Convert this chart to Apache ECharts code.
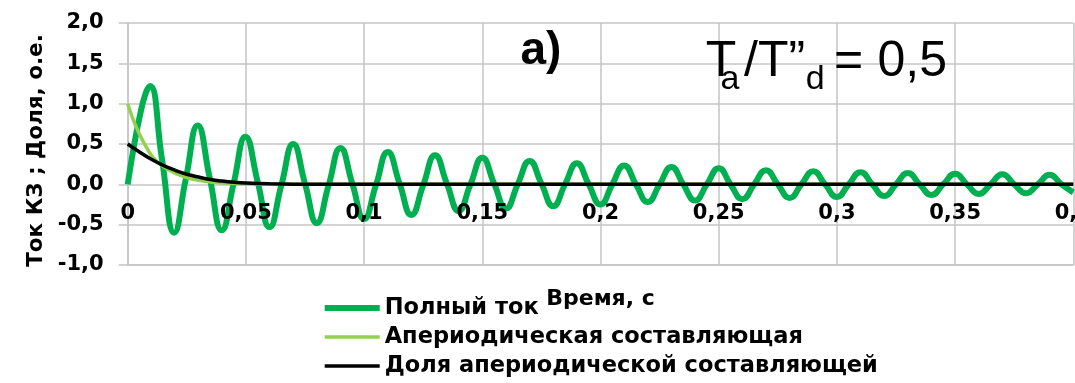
<!DOCTYPE html>
<html>
<head>
<meta charset="utf-8">
<script src="https://cdn.jsdelivr.net/npm/echarts@6/dist/echarts.min.js"></script>
<style>
html,body{margin:0;padding:0;background:#fff;}
#chart{width:1075px;height:383px;}
</style>
</head>
<body>
<div id="chart"></div>
<script>
// ---- data ----
const seriesNames = ['Полный ток', 'Апериодическая составляющая', 'Доля апериодической составляющей'];

// full current: start, extrema and the points half-way between them
const fullTime = [0, 0.0025, 0.005, 0.0075, 0.0095, 0.0145, 0.0197, 0.0246, 0.0296, 0.0347,
  0.0398, 0.0448, 0.0498, 0.055, 0.06, 0.065, 0.07, 0.075, 0.08, 0.085,
  0.09, 0.095, 0.1, 0.105, 0.11, 0.115, 0.12, 0.125, 0.13, 0.135,
  0.14, 0.145, 0.15, 0.155, 0.16, 0.165, 0.17, 0.175, 0.18, 0.185,
  0.19, 0.195, 0.2, 0.205, 0.21, 0.215, 0.22, 0.225, 0.23, 0.235,
  0.24, 0.245, 0.25, 0.255, 0.26, 0.265, 0.27, 0.275, 0.28, 0.285,
  0.29, 0.295, 0.3, 0.305, 0.31, 0.315, 0.32, 0.325, 0.33, 0.335,
  0.34, 0.345, 0.35, 0.355, 0.36, 0.365, 0.37, 0.375, 0.38, 0.385,
  0.39, 0.395, 0.4];
const fullCurrent = [0, 0.45, 0.83, 1.12, 1.22, 0.31, -0.60, 0.07, 0.73, 0.08,
  -0.57, 0.01, 0.59, 0.03, -0.53, -0.01, 0.50, 0.01, -0.48, -0.01,
  0.45, 0.01, -0.43, -0.01, 0.40, 0.01, -0.38, -0.01, 0.36, 0.01,
  -0.33, 0, 0.33, 0.01, -0.30, 0, 0.29, 0.01, -0.27, 0,
  0.26, 0, -0.25, 0, 0.235, 0, -0.22, 0, 0.215, 0,
  -0.20, 0, 0.20, 0, -0.185, 0, 0.175, 0, -0.17, 0,
  0.162, 0, -0.158, 0, 0.15, 0, -0.145, 0, 0.14, 0,
  -0.132, 0, 0.13, 0, -0.12, 0, 0.125, 0, -0.11, 0,
  0.118, 0, -0.10];

const aperTime = [0, 0.0025, 0.005, 0.0075, 0.01, 0.0125, 0.015, 0.02, 0.025, 0.03,
  0.035, 0.04, 0.05, 0.06, 0.08, 0.1, 0.2, 0.3, 0.4];
const aperiodic = [1.0, 0.79, 0.62, 0.48, 0.36, 0.28, 0.22, 0.14, 0.085, 0.05,
  0.03, 0.018, 0.007, 0.003, 0, 0, 0, 0, 0];

const shareTime = [0, 0.005, 0.01, 0.015, 0.02, 0.025, 0.03, 0.035, 0.04, 0.045,
  0.05, 0.06, 0.08, 0.1, 0.2, 0.3, 0.4];
const aperShare = [0.50, 0.40, 0.31, 0.235, 0.175, 0.125, 0.09, 0.06, 0.04, 0.025,
  0.015, 0.006, 0.001, 0, 0, 0, 0];

const xTickLabels = ['0', '0,05', '0,1', '0,15', '0,2', '0,25', '0,3', '0,35', '0,4'];
const yTickLabels = ['-1,0', '-0,5', '0,0', '0,5', '1,0', '1,5', '2,0'];

const xName = 'Время, с';
const yName = 'Ток КЗ ; Доля, о.е.';
const panelLabel = 'a)';

// ---- chart ----
const pairs = (xs, ys) => xs.map((x, i) => [x, ys[i]]);
const boldFont = 'DejaVu Sans';
const gridColor = '#c4c4c4';
const xLabelStyle = {
  show: true, margin: -61.5, fontFamily: boldFont, fontWeight: 'bold', fontSize: 21, color: '#000',
  hideOverlap: false, showMinLabel: true, showMaxLabel: true,
  formatter: v => xTickLabels[Math.round(v / 0.05)]
};

const chart = echarts.init(document.getElementById('chart'), null, {renderer: 'canvas'});
chart.setOption({
  animation: false,
  backgroundColor: '#ffffff',
  grid: {left: 127.7, right: 1.7, top: 23, bottom: 118, containLabel: false, outerBoundsMode: 'none'},
  xAxis: [{
    type: 'value', min: 0, max: 0.4, interval: 0.05, position: 'bottom',
    name: xName, nameLocation: 'middle', nameGap: 23, nameMoveOverlap: false,
    nameTextStyle: {fontFamily: boldFont, fontWeight: 'bold', fontSize: 22, color: '#000'},
    axisLine: {show: true, onZero: false, lineStyle: {color: gridColor, width: 1.5}},
    axisTick: {show: false},
    axisLabel: {show: false},
    splitLine: {show: true, lineStyle: {color: gridColor, width: 1.5}}
  }, {
    // labels only, drawn above the curves like in the reference
    type: 'value', min: 0, max: 0.4, interval: 0.05, position: 'bottom', z: 20,
    axisLine: {show: false, onZero: false},
    axisTick: {show: false},
    axisLabel: xLabelStyle,
    splitLine: {show: false}
  }],
  yAxis: {
    type: 'value', min: -1, max: 2, interval: 0.5,
    name: yName, nameLocation: 'middle', nameGap: 80, nameMoveOverlap: false,
    nameTextStyle: {fontFamily: boldFont, fontWeight: 'bold', fontSize: 21.5, color: '#000', padding: [0, 13, 0, 0]},
    axisLine: {show: true, onZero: false, lineStyle: {color: gridColor, width: 1.5}},
    axisTick: {show: true, inside: false, length: 9, lineStyle: {color: gridColor, width: 1.5}},
    axisLabel: {
      show: true, margin: 24, fontFamily: boldFont, fontWeight: 'bold', fontSize: 21, color: '#000',
      formatter: v => yTickLabels[Math.round((v + 1) / 0.5)]
    },
    splitLine: {show: true, lineStyle: {color: gridColor, width: 1.5}}
  },
  legend: {
    orient: 'vertical', left: 316.7, top: 291.5, padding: 5,
    itemWidth: 55, itemHeight: 14, itemGap: 6,
    data: seriesNames,
    lineStyle: {width: 'inherit'},
    itemStyle: {opacity: 0, borderWidth: 0},
    textStyle: {fontFamily: boldFont, fontWeight: 'bold', fontSize: 22.5, color: '#000'}
  },
  series: [
    {name: seriesNames[0], type: 'line', xAxisIndex: 0, data: pairs(fullTime, fullCurrent), smooth: 0.5,
     symbol: 'none', lineStyle: {color: '#00b050', width: 6}, itemStyle: {color: '#00b050'}},
    {name: seriesNames[1], type: 'line', xAxisIndex: 0, data: pairs(aperTime, aperiodic), smooth: 0.4,
     symbol: 'none', lineStyle: {color: '#92d050', width: 3.5}, itemStyle: {color: '#92d050'}},
    {name: seriesNames[2], type: 'line', xAxisIndex: 0, data: pairs(shareTime, aperShare), smooth: 0.4,
     symbol: 'none', lineStyle: {color: '#000000', width: 3.5}, itemStyle: {color: '#000000'}}
  ],
  graphic: [
    {type: 'text', x: 520.5, y: 51.6, z: 100,
     style: {text: panelLabel, fontFamily: 'Liberation Sans', fontWeight: 'bold', fontSize: 46, fill: '#000', verticalAlign: 'middle', align: 'left'}},
    {type: 'text', x: 705.7, y: 62, z: 100,
     style: {text: 'T', fontFamily: 'Liberation Sans', fontSize: 50, fill: '#000', verticalAlign: 'middle', align: 'left'}},
    {type: 'text', x: 720.4, y: 79.8, z: 100,
     style: {text: 'a', fontFamily: 'Liberation Sans', fontSize: 34, fill: '#000', verticalAlign: 'middle', align: 'left'}},
    {type: 'text', x: 744, y: 62, z: 100,
     style: {text: '/T\u201d', fontFamily: 'Liberation Sans', fontSize: 50, fill: '#000', verticalAlign: 'middle', align: 'left'}},
    {type: 'text', x: 805.7, y: 79.8, z: 100,
     style: {text: 'd', fontFamily: 'Liberation Sans', fontSize: 34, fill: '#000', verticalAlign: 'middle', align: 'left'}},
    {type: 'text', x: 834, y: 62, z: 100,
     style: {text: '=', fontFamily: 'Liberation Sans', fontSize: 50, fill: '#000', verticalAlign: 'middle', align: 'left'}},
    {type: 'text', x: 877.5, y: 62, z: 100,
     style: {text: '0,5', fontFamily: 'Liberation Sans', fontSize: 50, fill: '#000', verticalAlign: 'middle', align: 'left'}}
  ]
});
</script>
</body>
</html>
